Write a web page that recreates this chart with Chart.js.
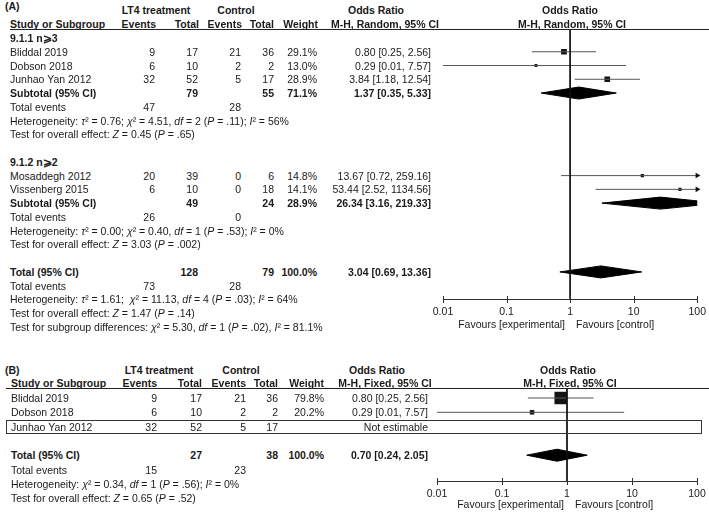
<!DOCTYPE html>
<html><head><meta charset="utf-8">
<script src="https://cdn.jsdelivr.net/npm/chart.js@4.4.1/dist/chart.umd.min.js"></script>
<style>
html,body{margin:0;padding:0;background:#fff;}
#page{position:relative;width:709px;height:512px;overflow:hidden;background:#fff;font-family:"Liberation Sans",Arial,sans-serif;font-size:10.5px;color:#1a1a1a;}
.t{position:absolute;white-space:nowrap;line-height:12px;}
.b{font-weight:bold;}
.hl{position:absolute;height:0;border-top:1px solid #222;}
.box{position:absolute;box-sizing:border-box;border:1px solid #333;}
canvas{position:absolute;}
</style></head><body><div id="page">
<canvas id="ca" width="289" height="340" style="left:420px;top:0px"></canvas>
<canvas id="cb" width="289" height="152" style="left:420px;top:360px"></canvas>
</div>
<script>
// ---------- Data: panel A (random effects, subgroups) ----------
const studiesA = ['Bliddal 2019','Dobson 2018','Junhao Yan 2012','Mosaddegh 2012','Vissenberg 2015'];
const subgroupOfA = [0,0,0,1,1];
const lt4EventsA = [9,6,32,20,6];
const lt4TotalA = [17,10,52,39,10];
const ctrlEventsA = [21,2,5,0,0];
const ctrlTotalA = [36,2,17,6,18];
const weightA = [29.1,13.0,28.9,14.8,14.1];
const orA = [0.80,0.29,3.84,13.67,53.44];
const orLowA = [0.25,0.01,1.18,0.72,2.52];
const orHighA = [2.56,7.57,12.54,259.16,1134.56];

const subgroupNamesA = ['9.1.1 n\u2A7E3','9.1.2 n\u2A7E2'];
const subLt4EventsA = [47,26];
const subLt4TotalA = [79,49];
const subCtrlEventsA = [28,0];
const subCtrlTotalA = [55,24];
const subWeightA = [71.1,28.9];
const subOrA = [1.37,26.34];
const subLowA = [0.35,3.16];
const subHighA = [5.33,219.33];
const subHetA = [
  'Heterogeneity: <i>τ</i>² = 0.76; <i>χ</i>² = 4.51, <i>df</i> = 2 (<i>P</i> = .11); <i>I</i>² = 56%',
  'Heterogeneity: <i>τ</i>² = 0.00; <i>χ</i>² = 0.40, <i>df</i> = 1 (<i>P</i> = .53); <i>I</i>² = 0%'
];
const subTestA = [
  'Test for overall effect: <i>Z</i> = 0.45 (<i>P</i> = .65)',
  'Test for overall effect: <i>Z</i> = 3.03 (<i>P</i> = .002)'
];
const totalCountsA = [128,79];     // LT4 total, control total
const totalEventsA = [73,28];
const totalWeightA = 100.0;
const totalOrCiA = [3.04,0.69,13.36];
const totalTextA = [
  'Heterogeneity: <i>τ</i>² = 1.61;&nbsp; <i>χ</i>² = 11.13, <i>df</i> = 4 (<i>P</i> = .03); <i>I</i>² = 64%',
  'Test for overall effect: <i>Z</i> = 1.47 (<i>P</i> = .14)',
  'Test for subgroup differences: <i>χ</i>² = 5.30, <i>df</i> = 1 (<i>P</i> = .02), <i>I</i>² = 81.1%'
];

// ---------- Data: panel B (fixed effects) ----------
const studiesB = ['Bliddal 2019','Dobson 2018','Junhao Yan 2012'];
const lt4EventsB = [9,6,32];
const lt4TotalB = [17,10,52];
const ctrlEventsB = [21,2,5];
const ctrlTotalB = [36,2,17];
const weightB = [79.8,20.2,null];
const orB = [0.80,0.29,null];
const orLowB = [0.25,0.01,null];
const orHighB = [2.56,7.57,null];
const totalCountsB = [27,38];
const totalEventsB = [15,23];
const totalWeightB = 100.0;
const totalOrCiB = [0.70,0.24,2.05];
const totalTextB = [
  'Heterogeneity: <i>χ</i>² = 0.34, <i>df</i> = 1 (<i>P</i> = .56); <i>I</i>² = 0%',
  'Test for overall effect: <i>Z</i> = 0.65 (<i>P</i> = .52)'
];

// ---------- Axis ----------
const tickValues = [0.01,0.1,1,10,100];
const tickLabels = ['0.01','0.1','1','10','100'];
const AXIS_MIN = 0.01, AXIS_MAX = 100;

// ---------- Text helpers ----------
const page = document.getElementById('page');
function T(x, y, html, align, bold) {
  const d = document.createElement('div');
  d.className = 't' + (bold ? ' b' : '');
  d.innerHTML = html;
  const tx = align === 'right' ? '-100%' : align === 'center' ? '-50%' : '0';
  d.style.left = x + 'px';
  d.style.top = y + 'px';
  d.style.transform = 'translate(' + tx + ',-50%)';
  page.appendChild(d);
}
function HL(x, y, w) {
  const d = document.createElement('div');
  d.className = 'hl';
  d.style.left = x + 'px'; d.style.top = y + 'px'; d.style.width = w + 'px';
  page.appendChild(d);
}
const f2 = v => v.toFixed(2);
const orText = (o, l, h) => f2(o) + ' [' + f2(l) + ', ' + f2(h) + ']';
const pct = w => w.toFixed(1) + '%';

// ---------- Panel A table ----------
const rowA = i => 38 + 13.76 * i;
const colA = {name:10, ev:155, tot:198, cev:241, ctot:274, w:317, or:431};
T(5, 6, '(A)', 'left', true);
T(156, 10, 'LT4 treatment', 'center', true);
T(236, 10, 'Control', 'center', true);
T(376, 10, 'Odds Ratio', 'center', true);
T(570, 10, 'Odds Ratio', 'center', true);
T(colA.name, 24, 'Study or Subgroup', 'left', true);
T(156, 24, 'Events', 'right', true);
T(199, 24, 'Total', 'right', true);
T(242, 24, 'Events', 'right', true);
T(274, 24, 'Total', 'right', true);
T(318, 24, 'Weight', 'right', true);
T(385, 24, 'M-H, Random, 95% CI', 'center', true);
T(572, 24, 'M-H, Random, 95% CI', 'center', true);
HL(10, 29, 699);

const studyRowsA = [], subRowsA = [];
let r = 0;
subgroupNamesA.forEach((g, gi) => {
  T(colA.name, rowA(r), g, 'left', true); r++;
  studiesA.forEach((s, i) => {
    if (subgroupOfA[i] !== gi) return;
    const y = rowA(r);
    T(colA.name, y, s, 'left');
    T(colA.ev, y, lt4EventsA[i], 'right');
    T(colA.tot, y, lt4TotalA[i], 'right');
    T(colA.cev, y, ctrlEventsA[i], 'right');
    T(colA.ctot, y, ctrlTotalA[i], 'right');
    T(colA.w, y, pct(weightA[i]), 'right');
    T(colA.or, y, orText(orA[i], orLowA[i], orHighA[i]), 'right');
    studyRowsA[i] = r; r++;
  });
  let y = rowA(r);
  T(colA.name, y, 'Subtotal (95% CI)', 'left', true);
  T(colA.tot, y, subLt4TotalA[gi], 'right', true);
  T(colA.ctot, y, subCtrlTotalA[gi], 'right', true);
  T(colA.w, y, pct(subWeightA[gi]), 'right', true);
  T(colA.or, y, orText(subOrA[gi], subLowA[gi], subHighA[gi]), 'right', true);
  subRowsA[gi] = r;
  y = rowA(r + 1);
  T(colA.name, y, 'Total events', 'left');
  T(colA.ev, y, subLt4EventsA[gi], 'right');
  T(colA.cev, y, subCtrlEventsA[gi], 'right');
  T(colA.name, rowA(r + 2), subHetA[gi], 'left');
  T(colA.name, rowA(r + 3), subTestA[gi], 'left');
  r += 5;
});
const totalRowA = r;
{
  let y = rowA(r);
  T(colA.name, y, 'Total (95% CI)', 'left', true);
  T(colA.tot, y, totalCountsA[0], 'right', true);
  T(colA.ctot, y, totalCountsA[1], 'right', true);
  T(colA.w, y, pct(totalWeightA), 'right', true);
  T(colA.or, y, orText(totalOrCiA[0], totalOrCiA[1], totalOrCiA[2]), 'right', true);
  y = rowA(r + 1);
  T(colA.name, y, 'Total events', 'left');
  T(colA.ev, y, totalEventsA[0], 'right');
  T(colA.cev, y, totalEventsA[1], 'right');
  totalTextA.forEach((s, k) => T(colA.name, rowA(r + 2 + k), s, 'left'));
}
T(565, 324, 'Favours [experimental]', 'right');
T(576, 324, 'Favours [control]', 'left');

// ---------- Panel B table ----------
const rowB = i => 398 + 14.3 * i;
const colB = {name:11, ev:157, tot:202, cev:246, ctot:278, w:324, or:428};
T(5, 370, '(B)', 'left', true);
T(159, 370, 'LT4 treatment', 'center', true);
T(241, 370, 'Control', 'center', true);
T(377, 370, 'Odds Ratio', 'center', true);
T(568, 370, 'Odds Ratio', 'center', true);
T(colB.name, 383, 'Study or Subgroup', 'left', true);
T(157, 383, 'Events', 'right', true);
T(202, 383, 'Total', 'right', true);
T(246, 383, 'Events', 'right', true);
T(278, 383, 'Total', 'right', true);
T(324, 383, 'Weight', 'right', true);
T(385, 383, 'M-H, Fixed, 95% CI', 'center', true);
T(570, 383, 'M-H, Fixed, 95% CI', 'center', true);
HL(6, 388, 703);
studiesB.forEach((s, i) => {
  const y = rowB(i);
  T(colB.name, y, s, 'left');
  T(colB.ev, y, lt4EventsB[i], 'right');
  T(colB.tot, y, lt4TotalB[i], 'right');
  T(colB.cev, y, ctrlEventsB[i], 'right');
  T(colB.ctot, y, ctrlTotalB[i], 'right');
  if (orB[i] === null) {
    T(colB.or, y, 'Not estimable', 'right');
    const bx = document.createElement('div');
    bx.className = 'box';
    bx.style.left = '6px'; bx.style.top = (y - 7) + 'px';
    bx.style.width = '696px'; bx.style.height = '14px';
    page.appendChild(bx);
  } else {
    T(colB.w, y, pct(weightB[i]), 'right');
    T(colB.or, y, orText(orB[i], orLowB[i], orHighB[i]), 'right');
  }
});
const totalRowB = studiesB.length + 1;
{
  let y = rowB(totalRowB);
  T(colB.name, y, 'Total (95% CI)', 'left', true);
  T(colB.tot, y, totalCountsB[0], 'right', true);
  T(colB.ctot, y, totalCountsB[1], 'right', true);
  T(colB.w, y, pct(totalWeightB), 'right', true);
  T(colB.or, y, orText(totalOrCiB[0], totalOrCiB[1], totalOrCiB[2]), 'right', true);
  y = rowB(totalRowB + 1);
  T(colB.name, y, 'Total events', 'left');
  T(colB.ev, y, totalEventsB[0], 'right');
  T(colB.cev, y, totalEventsB[1], 'right');
  totalTextB.forEach((s, k) => T(colB.name, rowB(totalRowB + 2 + k), s, 'left'));
}
T(564, 504, 'Favours [experimental]', 'right');
T(575, 504, 'Favours [control]', 'left');

// ---------- Forest plots (Chart.js) ----------
const FONT = '"Liberation Sans", Arial, sans-serif';
const tickMarks = {
  id: 'tickMarks',
  afterDraw(chart) {
    const {ctx, chartArea, scales} = chart;
    ctx.save();
    ctx.strokeStyle = '#333'; ctx.lineWidth = 1;
    ctx.beginPath();
    tickValues.forEach(v => {
      const px = Math.round(scales.x.getPixelForValue(v)) + 0.5;
      ctx.moveTo(px, Math.round(chartArea.bottom) - 3);
      ctx.lineTo(px, Math.round(chartArea.bottom) + 4);
    });
    ctx.stroke();
    ctx.restore();
  }
};

function forest(id, c) {
  const ds = [];
  ds.push({type:'line', data:[{x:1, y:c.yMin}, {x:1, y:c.yMax}], borderColor:'#111', borderWidth:1, pointRadius:0, clip:false});
  c.rows.forEach((row, i) => {
    if (c.or[i] === null) return;
    const arrow = c.hi[i] > AXIS_MAX;
    ds.push({type:'line', data:[{x:Math.max(c.lo[i], AXIS_MIN), y:row}, {x:Math.min(c.hi[i], AXIS_MAX), y:row}],
      borderColor:'#555', borderWidth:1, pointStyle:'triangle', rotation:90,
      pointRadius:[0, arrow ? 3.2 : 0], pointBackgroundColor:'#111', pointBorderWidth:0, clip:false});
  });
  const pts = [], rad = [];
  c.rows.forEach((row, i) => {
    if (c.or[i] === null) return;
    pts.push({x:c.or[i], y:row});
    rad.push((c.sizeA + c.sizeB * c.w[i]) / Math.SQRT2);
  });
  ds.push({type:'scatter', data:pts, pointStyle:'rect', pointRadius:rad, backgroundColor:'#141414', borderWidth:0});
  c.diamonds.forEach(d => {
    const [row, est, lo, hi] = d;
    ds.push({type:'line', data:[{x:lo, y:row}, {x:est, y:row - c.dh}, {x:hi, y:row}, {x:est, y:row + c.dh}, {x:lo, y:row}],
      fill:'shape', backgroundColor:'#000', borderColor:'#000', borderWidth:1, pointRadius:0, clip:0, tension:0});
  });
  return new Chart(document.getElementById(id), {
    type:'scatter',
    data:{datasets:ds},
    options:{
      responsive:false, animation:false, events:[],
      layout:{padding:c.pad},
      plugins:{legend:{display:false}, tooltip:{enabled:false}},
      scales:{
        x:{type:'logarithmic', min:AXIS_MIN, max:AXIS_MAX,
          afterBuildTicks: s => { s.ticks = tickValues.map(v => ({value:v})); },
          afterFit: s => { s.height = c.axisH; },
          ticks:{callback:(v, i) => tickLabels[i], color:'#1a1a1a', font:{family:FONT, size:10.5}, padding:3, maxRotation:0, autoSkip:false},
          grid:{display:false, drawTicks:true, tickLength:4},
          border:{display:true, color:'#333', width:1}},
        y:{type:'linear', reverse:true, min:c.yMin, max:c.yMax, display:false}
      }
    },
    plugins:[tickMarks]
  });
}

forest('ca', {
  rows: studyRowsA, or: orA, lo: orLowA, hi: orHighA, w: weightA,
  sizeA: 0.8, sizeB: 0.168,
  diamonds: [
    [subRowsA[0], subOrA[0], subLowA[0], subHighA[0]],
    [subRowsA[1], subOrA[1], subLowA[1], subHighA[1]],
    [totalRowA, totalOrCiA[0], totalOrCiA[1], totalOrCiA[2]]
  ],
  dh: 6 / 13.76,
  yMin: (29 - 38) / 13.76, yMax: (299 - 38) / 13.76,
  pad: {left:23, right:11, top:29, bottom:0}, axisH: 41
});
forest('cb', {
  rows: studiesB.map((s, i) => i), or: orB, lo: orLowB, hi: orHighB, w: weightB,
  sizeA: 1.8, sizeB: 0.134,
  diamonds: [[totalRowB, totalOrCiB[0], totalOrCiB[1], totalOrCiB[2]]],
  dh: 6 / 14.3,
  yMin: (388 - 398) / 14.3, yMax: (481 - 398) / 14.3,
  pad: {left:17, right:12, top:28, bottom:0}, axisH: 31
});
</script>
</body></html>
